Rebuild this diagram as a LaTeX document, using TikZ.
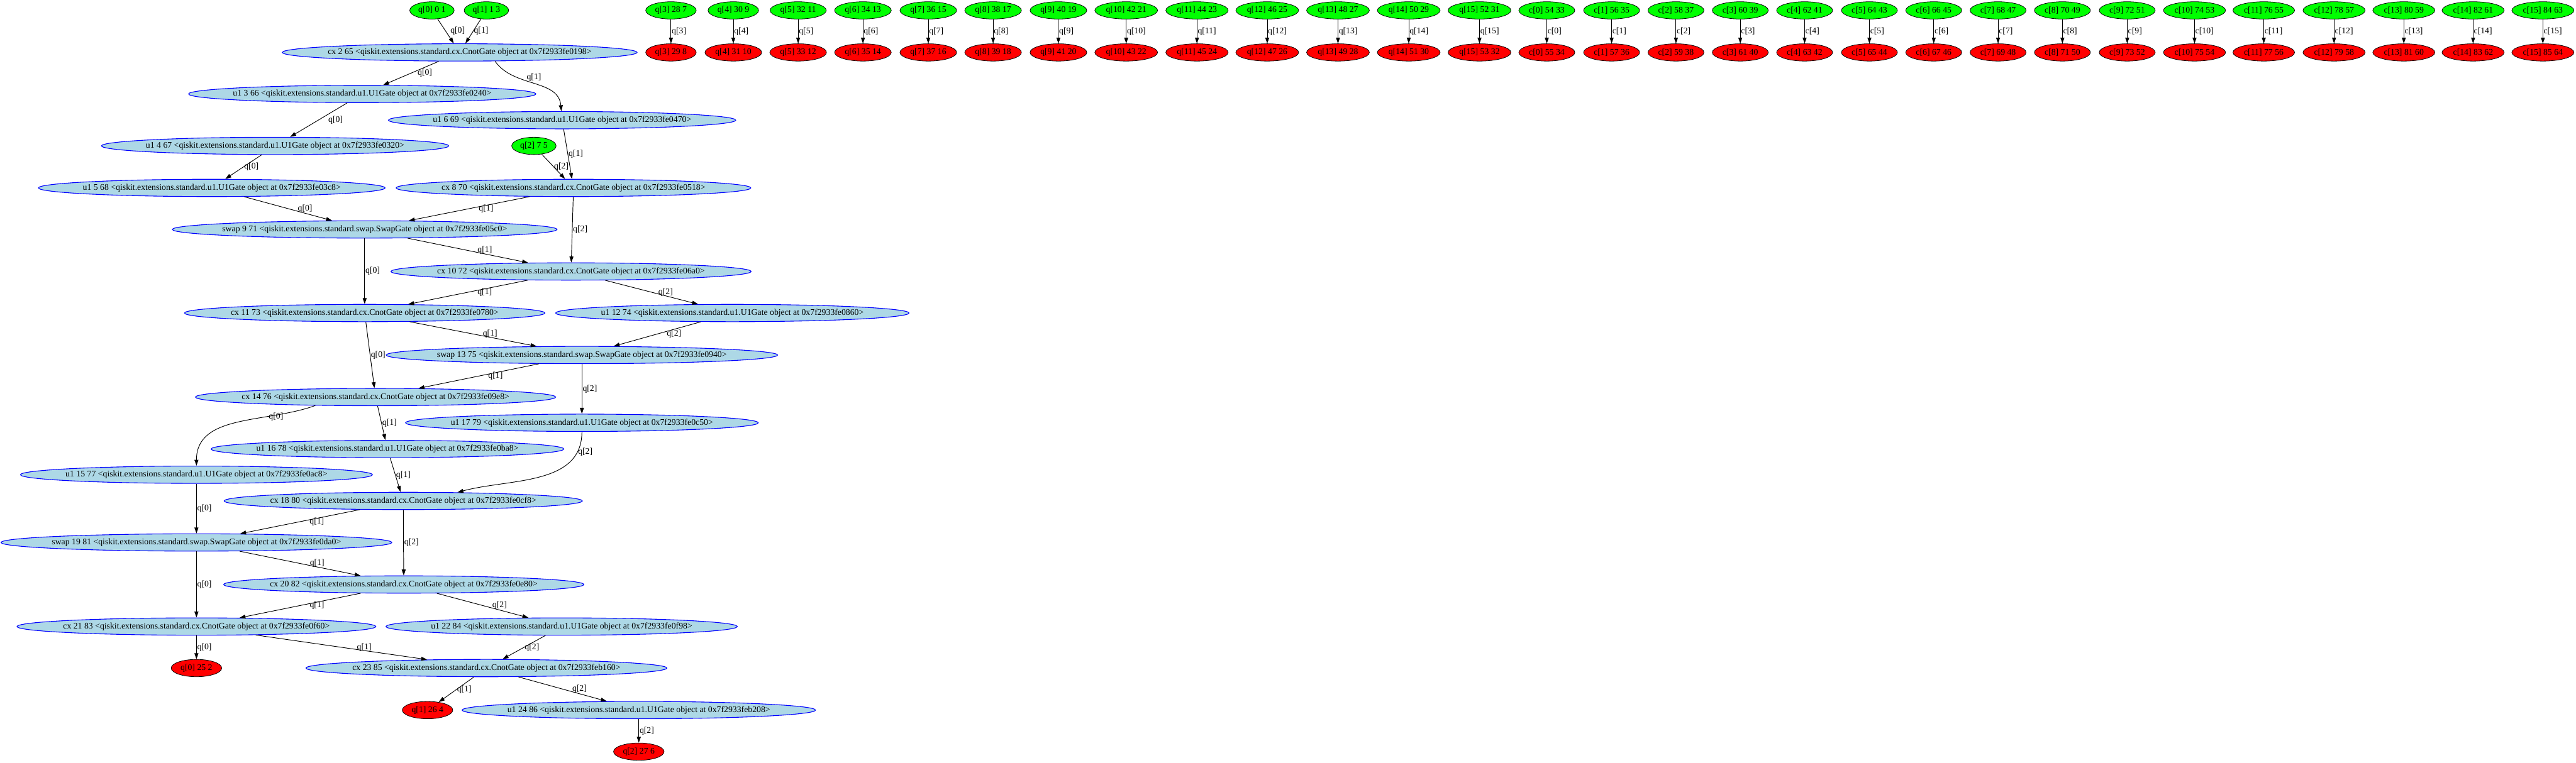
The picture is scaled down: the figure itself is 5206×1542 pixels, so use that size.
\documentclass[tikz,border=0pt]{standalone}
\usepackage{fontspec}
\setmainfont{Liberation Serif}
\usetikzlibrary{arrows.meta,shapes.geometric}
\definecolor{gatefill}{HTML}{ADD8E6}
\definecolor{infill}{HTML}{00FF00}
\definecolor{outfill}{HTML}{FF0000}
\tikzset{
  gate/.style={ellipse, draw=blue, fill=gatefill, line width=1.4pt, inner xsep=-13pt, inner ysep=0pt, minimum height=35pt},
  wirein/.style={ellipse, draw=black, fill=infill, line width=1pt, inner xsep=4pt, inner ysep=0pt, minimum height=35pt},
  wireout/.style={wirein, fill=outfill},
  wire/.style={-{Triangle[length=12pt,width=8pt]}, line width=1.2pt},
  lbl/.style={midway, right, inner sep=1pt},
  slbl/.style={lbl, xshift=18pt},
}
\begin{document}
\begin{tikzpicture}[x=1pt, y=1pt, font=\fontsize{17.5}{21}\selectfont]
	  \useasboundingbox (0,0) rectangle (5206,-1542);

	  % inputs and outputs of q[0], q[1], q[2]
	  \node[wirein] (qin0) at (873,-21) {q[0] 0 1};
	  \node[wirein] (qin1) at (983,-21) {q[1] 1 3};
	  \node[wirein] (qin2) at (1079,-295) {q[2] 7 5};
	  \node[wireout] (qout0) at (397,-1351) {q[0] 25 2};
	  \node[wireout] (qout1) at (864,-1436) {q[1] 26 4};
	  \node[wireout] (qout2) at (1291,-1520) {q[2] 27 6};

	  % gates
	  \node[gate] (g2) at (929,-106) {cx 2 65 <qiskit.extensions.standard.cx.CnotGate object at 0x7f2933fe0198>};
	  \node[gate] (g3) at (732,-190) {u1 3 66 <qiskit.extensions.standard.u1.U1Gate object at 0x7f2933fe0240>};
	  \node[gate] (g6) at (1136,-243) {u1 6 69 <qiskit.extensions.standard.u1.U1Gate object at 0x7f2933fe0470>};
	  \node[gate] (g4) at (556,-295) {u1 4 67 <qiskit.extensions.standard.u1.U1Gate object at 0x7f2933fe0320>};
	  \node[gate] (g5) at (428,-380) {u1 5 68 <qiskit.extensions.standard.u1.U1Gate object at 0x7f2933fe03c8>};
	  \node[gate] (g8) at (1159,-380) {cx 8 70 <qiskit.extensions.standard.cx.CnotGate object at 0x7f2933fe0518>};
	  \node[gate] (g9) at (737,-464) {swap 9 71 <qiskit.extensions.standard.swap.SwapGate object at 0x7f2933fe05c0>};
	  \node[gate] (g10) at (1154,-549) {cx 10 72 <qiskit.extensions.standard.cx.CnotGate object at 0x7f2933fe06a0>};
	  \node[gate] (g11) at (737,-633) {cx 11 73 <qiskit.extensions.standard.cx.CnotGate object at 0x7f2933fe0780>};
	  \node[gate] (g12) at (1480,-633) {u1 12 74 <qiskit.extensions.standard.u1.U1Gate object at 0x7f2933fe0860>};
	  \node[gate] (g13) at (1176,-718) {swap 13 75 <qiskit.extensions.standard.swap.SwapGate object at 0x7f2933fe0940>};
	  \node[gate] (g14) at (759,-803) {cx 14 76 <qiskit.extensions.standard.cx.CnotGate object at 0x7f2933fe09e8>};
	  \node[gate] (g17) at (1176,-855) {u1 17 79 <qiskit.extensions.standard.u1.U1Gate object at 0x7f2933fe0c50>};
	  \node[gate] (g16) at (783,-908) {u1 16 78 <qiskit.extensions.standard.u1.U1Gate object at 0x7f2933fe0ba8>};
	  \node[gate] (g15) at (397,-960) {u1 15 77 <qiskit.extensions.standard.u1.U1Gate object at 0x7f2933fe0ac8>};
	  \node[gate] (g18) at (815,-1013) {cx 18 80 <qiskit.extensions.standard.cx.CnotGate object at 0x7f2933fe0cf8>};
	  \node[gate] (g19) at (397,-1097) {swap 19 81 <qiskit.extensions.standard.swap.SwapGate object at 0x7f2933fe0da0>};
	  \node[gate] (g20) at (816,-1182) {cx 20 82 <qiskit.extensions.standard.cx.CnotGate object at 0x7f2933fe0e80>};
	  \node[gate] (g21) at (397,-1267) {cx 21 83 <qiskit.extensions.standard.cx.CnotGate object at 0x7f2933fe0f60>};
	  \node[gate] (g22) at (1135,-1267) {u1 22 84 <qiskit.extensions.standard.u1.U1Gate object at 0x7f2933fe0f98>};
	  \node[gate] (g23) at (983,-1351) {cx 23 85 <qiskit.extensions.standard.cx.CnotGate object at 0x7f2933feb160>};
	  \node[gate] (g24) at (1291,-1436) {u1 24 86 <qiskit.extensions.standard.u1.U1Gate object at 0x7f2933feb208>};

	  % idle wires
	  \node[wirein] (qin3) at (1356,-21) {q[3] 28 7};
	  \node[wirein] (qin4) at (1482,-21) {q[4] 30 9};
	  \node[wirein] (qin5) at (1613,-21) {q[5] 32 11};
	  \node[wirein] (qin6) at (1744,-21) {q[6] 34 13};
	  \node[wirein] (qin7) at (1876,-21) {q[7] 36 15};
	  \node[wirein] (qin8) at (2007,-21) {q[8] 38 17};
	  \node[wirein] (qin9) at (2139,-21) {q[9] 40 19};
	  \node[wirein] (qin10) at (2276,-21) {q[10] 42 21};
	  \node[wirein] (qin11) at (2419,-21) {q[11] 44 23};
	  \node[wirein] (qin12) at (2561,-21) {q[12] 46 25};
	  \node[wirein] (qin13) at (2704,-21) {q[13] 48 27};
	  \node[wirein] (qin14) at (2847,-21) {q[14] 50 29};
	  \node[wirein] (qin15) at (2990,-21) {q[15] 52 31};
	  \node[wirein] (cin0) at (3126,-21) {c[0] 54 33};
	  \node[wirein] (cin1) at (3257,-21) {c[1] 56 35};
	  \node[wirein] (cin2) at (3387,-21) {c[2] 58 37};
	  \node[wirein] (cin3) at (3517,-21) {c[3] 60 39};
	  \node[wirein] (cin4) at (3647,-21) {c[4] 62 41};
	  \node[wirein] (cin5) at (3778,-21) {c[5] 64 43};
	  \node[wirein] (cin6) at (3908,-21) {c[6] 66 45};
	  \node[wirein] (cin7) at (4038,-21) {c[7] 68 47};
	  \node[wirein] (cin8) at (4168,-21) {c[8] 70 49};
	  \node[wirein] (cin9) at (4299,-21) {c[9] 72 51};
	  \node[wirein] (cin10) at (4435,-21) {c[10] 74 53};
	  \node[wirein] (cin11) at (4575,-21) {c[11] 76 55};
	  \node[wirein] (cin12) at (4717,-21) {c[12] 78 57};
	  \node[wirein] (cin13) at (4858,-21) {c[13] 80 59};
	  \node[wirein] (cin14) at (4998,-21) {c[14] 82 61};
	  \node[wirein] (cin15) at (5139,-21) {c[15] 84 63};

	  \node[wireout] (qout3) at (1356,-106) {q[3] 29 8};
	  \node[wireout] (qout4) at (1482,-106) {q[4] 31 10};
	  \node[wireout] (qout5) at (1613,-106) {q[5] 33 12};
	  \node[wireout] (qout6) at (1744,-106) {q[6] 35 14};
	  \node[wireout] (qout7) at (1876,-106) {q[7] 37 16};
	  \node[wireout] (qout8) at (2007,-106) {q[8] 39 18};
	  \node[wireout] (qout9) at (2139,-106) {q[9] 41 20};
	  \node[wireout] (qout10) at (2276,-106) {q[10] 43 22};
	  \node[wireout] (qout11) at (2419,-106) {q[11] 45 24};
	  \node[wireout] (qout12) at (2561,-106) {q[12] 47 26};
	  \node[wireout] (qout13) at (2704,-106) {q[13] 49 28};
	  \node[wireout] (qout14) at (2847,-106) {q[14] 51 30};
	  \node[wireout] (qout15) at (2990,-106) {q[15] 53 32};
	  \node[wireout] (cout0) at (3126,-106) {c[0] 55 34};
	  \node[wireout] (cout1) at (3257,-106) {c[1] 57 36};
	  \node[wireout] (cout2) at (3387,-106) {c[2] 59 38};
	  \node[wireout] (cout3) at (3517,-106) {c[3] 61 40};
	  \node[wireout] (cout4) at (3647,-106) {c[4] 63 42};
	  \node[wireout] (cout5) at (3778,-106) {c[5] 65 44};
	  \node[wireout] (cout6) at (3908,-106) {c[6] 67 46};
	  \node[wireout] (cout7) at (4038,-106) {c[7] 69 48};
	  \node[wireout] (cout8) at (4168,-106) {c[8] 71 50};
	  \node[wireout] (cout9) at (4299,-106) {c[9] 73 52};
	  \node[wireout] (cout10) at (4435,-106) {c[10] 75 54};
	  \node[wireout] (cout11) at (4575,-106) {c[11] 77 56};
	  \node[wireout] (cout12) at (4717,-106) {c[12] 79 58};
	  \node[wireout] (cout13) at (4858,-106) {c[13] 81 60};
	  \node[wireout] (cout14) at (4998,-106) {c[14] 83 62};
	  \node[wireout] (cout15) at (5139,-106) {c[15] 85 64};

	  % circuit edges
	  \draw[wire] (qin0) -- node[lbl, xshift=8pt] {q[0]} (g2);
	  \draw[wire] (qin1) -- node[lbl] {q[1]} (g2);
	  \draw[wire] (g2) -- node[slbl, xshift=-6pt] {q[0]} (g3);
	  \draw[wire] (g2.-14) to [out=-55, in=95] node[slbl, pos=0.3] {q[1]} (g6);
	  \draw[wire] (g3) -- node[slbl] {q[0]} (g4);
	  \draw[wire] (g6) -- node[lbl] {q[1]} (g8);
	  \draw[wire] (g4) -- node[lbl] {q[0]} (g5);
	  \draw[wire] (qin2) -- node[lbl] {q[2]} (g8);
	  \draw[wire] (g5) -- node[slbl] {q[0]} (g9);
	  \draw[wire] (g8) -- node[slbl] {q[1]} (g9);
	  \draw[wire] (g8) -- node[lbl] {q[2]} (g10);
	  \draw[wire] (g9) -- node[slbl] {q[1]} (g10);
	  \draw[wire] (g9) -- node[lbl] {q[0]} (g11);
	  \draw[wire] (g10) -- node[slbl] {q[1]} (g11);
	  \draw[wire] (g10) -- node[slbl, xshift=-6pt] {q[2]} (g12);
	  \draw[wire] (g11) -- node[slbl] {q[1]} (g13);
	  \draw[wire] (g12) -- node[slbl] {q[2]} (g13);
	  \draw[wire] (g11) -- node[lbl] {q[0]} (g14);
	  \draw[wire] (g13) -- node[slbl] {q[1]} (g14);
	  \draw[wire] (g13) -- node[lbl] {q[2]} (g17);
	  \draw[wire] (g14.-172) to [out=200, in=90] node[lbl, pos=0.3] {q[0]} (g15);
	  \draw[wire] (g14) -- node[lbl] {q[1]} (g16);
	  \draw[wire] (g17) to [out=-90, in=15] node[lbl, pos=0.15] {q[2]} (g18.9);
	  \draw[wire] (g16) -- node[lbl] {q[1]} (g18);
	  \draw[wire] (g15) -- node[lbl] {q[0]} (g19);
	  \draw[wire] (g18) -- node[slbl] {q[1]} (g19);
	  \draw[wire] (g18) -- node[lbl] {q[2]} (g20);
	  \draw[wire] (g19) -- node[slbl] {q[1]} (g20);
	  \draw[wire] (g19) -- node[lbl] {q[0]} (g21);
	  \draw[wire] (g20) -- node[slbl] {q[1]} (g21);
	  \draw[wire] (g20) -- node[slbl] {q[2]} (g22);
	  \draw[wire] (g21) -- node[lbl] {q[0]} (qout0);
	  \draw[wire] (g21) -- node[slbl, xshift=12pt] {q[1]} (g23);
	  \draw[wire] (g22) -- node[lbl] {q[2]} (g23);
	  \draw[wire] (g23) -- node[lbl] {q[1]} (qout1);
	  \draw[wire] (g23) -- node[slbl] {q[2]} (g24);
	  \draw[wire] (g24) -- node[lbl] {q[2]} (qout2);

	  % idle wire edges
	  \draw[wire] (qin3) -- node[lbl] {q[3]} (qout3);
	  \draw[wire] (qin4) -- node[lbl] {q[4]} (qout4);
	  \draw[wire] (qin5) -- node[lbl] {q[5]} (qout5);
	  \draw[wire] (qin6) -- node[lbl] {q[6]} (qout6);
	  \draw[wire] (qin7) -- node[lbl] {q[7]} (qout7);
	  \draw[wire] (qin8) -- node[lbl] {q[8]} (qout8);
	  \draw[wire] (qin9) -- node[lbl] {q[9]} (qout9);
	  \draw[wire] (qin10) -- node[lbl] {q[10]} (qout10);
	  \draw[wire] (qin11) -- node[lbl] {q[11]} (qout11);
	  \draw[wire] (qin12) -- node[lbl] {q[12]} (qout12);
	  \draw[wire] (qin13) -- node[lbl] {q[13]} (qout13);
	  \draw[wire] (qin14) -- node[lbl] {q[14]} (qout14);
	  \draw[wire] (qin15) -- node[lbl] {q[15]} (qout15);
	  \draw[wire] (cin0) -- node[lbl] {c[0]} (cout0);
	  \draw[wire] (cin1) -- node[lbl] {c[1]} (cout1);
	  \draw[wire] (cin2) -- node[lbl] {c[2]} (cout2);
	  \draw[wire] (cin3) -- node[lbl] {c[3]} (cout3);
	  \draw[wire] (cin4) -- node[lbl] {c[4]} (cout4);
	  \draw[wire] (cin5) -- node[lbl] {c[5]} (cout5);
	  \draw[wire] (cin6) -- node[lbl] {c[6]} (cout6);
	  \draw[wire] (cin7) -- node[lbl] {c[7]} (cout7);
	  \draw[wire] (cin8) -- node[lbl] {c[8]} (cout8);
	  \draw[wire] (cin9) -- node[lbl] {c[9]} (cout9);
	  \draw[wire] (cin10) -- node[lbl] {c[10]} (cout10);
	  \draw[wire] (cin11) -- node[lbl] {c[11]} (cout11);
	  \draw[wire] (cin12) -- node[lbl] {c[12]} (cout12);
	  \draw[wire] (cin13) -- node[lbl] {c[13]} (cout13);
	  \draw[wire] (cin14) -- node[lbl] {c[14]} (cout14);
	  \draw[wire] (cin15) -- node[lbl] {c[15]} (cout15);
	\end{tikzpicture}
\end{document}
